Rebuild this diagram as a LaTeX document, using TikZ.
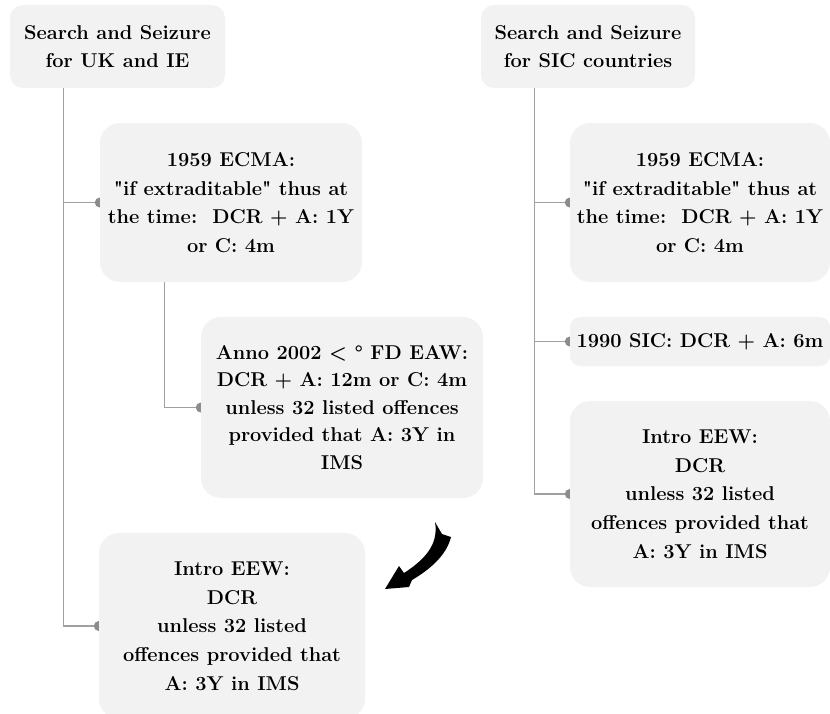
\documentclass[tikz,border=0pt]{standalone}
\begin{document}
\begin{tikzpicture}[x=1pt,y=-1pt,
  box/.style={fill=boxfill, rounded corners=20pt, align=center, inner sep=0pt,
    font=\fontsize{20}{28.7}\selectfont\bfseries},
  conn/.style={draw=linegray, line width=1.3pt},
  dotc/.style={fill=dotgray}]
\definecolor{boxfill}{HTML}{F2F2F2}
\definecolor{linegray}{HTML}{A0A0A0}
\definecolor{dotgray}{HTML}{8C8C8C}
\useasboundingbox (0,0) rectangle (830,713);
\clip (0,0) rectangle (830,713);

% left column
\node[box, rounded corners=13pt, minimum width=215pt, minimum height=83pt] (r1) at (117.5,46.5)
  {Search and Seizure\\for UK and IE};
\node[box, minimum width=262pt, minimum height=159pt] (a) at (231,202.5)
  {1959 ECMA:\\\textquotedbl if extraditable\textquotedbl{} thus at\\the time:\ \ DCR + A: 1Y\\or C: 4m};
\node[box, minimum width=282pt, minimum height=181pt, font=\fontsize{20}{27.6}\selectfont\bfseries] (b) at (342,407.5)
  {Anno 2002 < ° FD EAW:\\DCR + A: 12m or C: 4m\\unless 32 listed offences\\provided that A: 3Y in\\IMS};
\node[box, minimum width=266pt, minimum height=186pt] (c) at (232,626)
  {Intro EEW:\\DCR\\unless 32 listed\\offences provided that\\A: 3Y in IMS};

% right column
\node[box, rounded corners=13pt, minimum width=214pt, minimum height=83pt] (r2) at (588,46.5)
  {Search and Seizure\\for SIC countries};
\node[box, minimum width=260pt, minimum height=159pt] (d) at (700,202.5)
  {1959 ECMA:\\\textquotedbl if extraditable\textquotedbl{} thus at\\the time:\ \ DCR + A: 1Y\\or C: 4m};
\node[box, rounded corners=10pt, minimum width=260pt, minimum height=49pt] (e) at (700,341.5)
  {1990 SIC: DCR + A: 6m};
\node[box, minimum width=260pt, minimum height=186pt] (f) at (700,494)
  {Intro EEW:\\DCR\\unless 32 listed\\offences provided that\\A: 3Y in IMS};

% connectors
\draw[conn] ([xshift=53.5]r1.south west) |- (a.west);
\draw[conn] ([xshift=53.5]r1.south west) |- (c.west);
\draw[conn] ([xshift=65]a.south west) |- (b.west);
\draw[conn] ([xshift=54]r2.south west) |- (d.west);
\draw[conn] ([xshift=54]r2.south west) |- (e.west);
\draw[conn] ([xshift=54]r2.south west) |- (f.west);

\foreach \n in {a,b,c,d,e,f}{
  \fill[dotc] (\n.west) ++(0,5) arc (90:270:5) -- cycle;
}

% curved arrow
\fill[black] (435,522) .. controls (439,545) and (424,560) .. (404,573)
  -- (399,566) -- (385,589) -- (409,587) -- (412,580)
  .. controls (434,567) and (447,553) .. (451,537) -- (442,534) -- cycle;
\end{tikzpicture}
\end{document}
